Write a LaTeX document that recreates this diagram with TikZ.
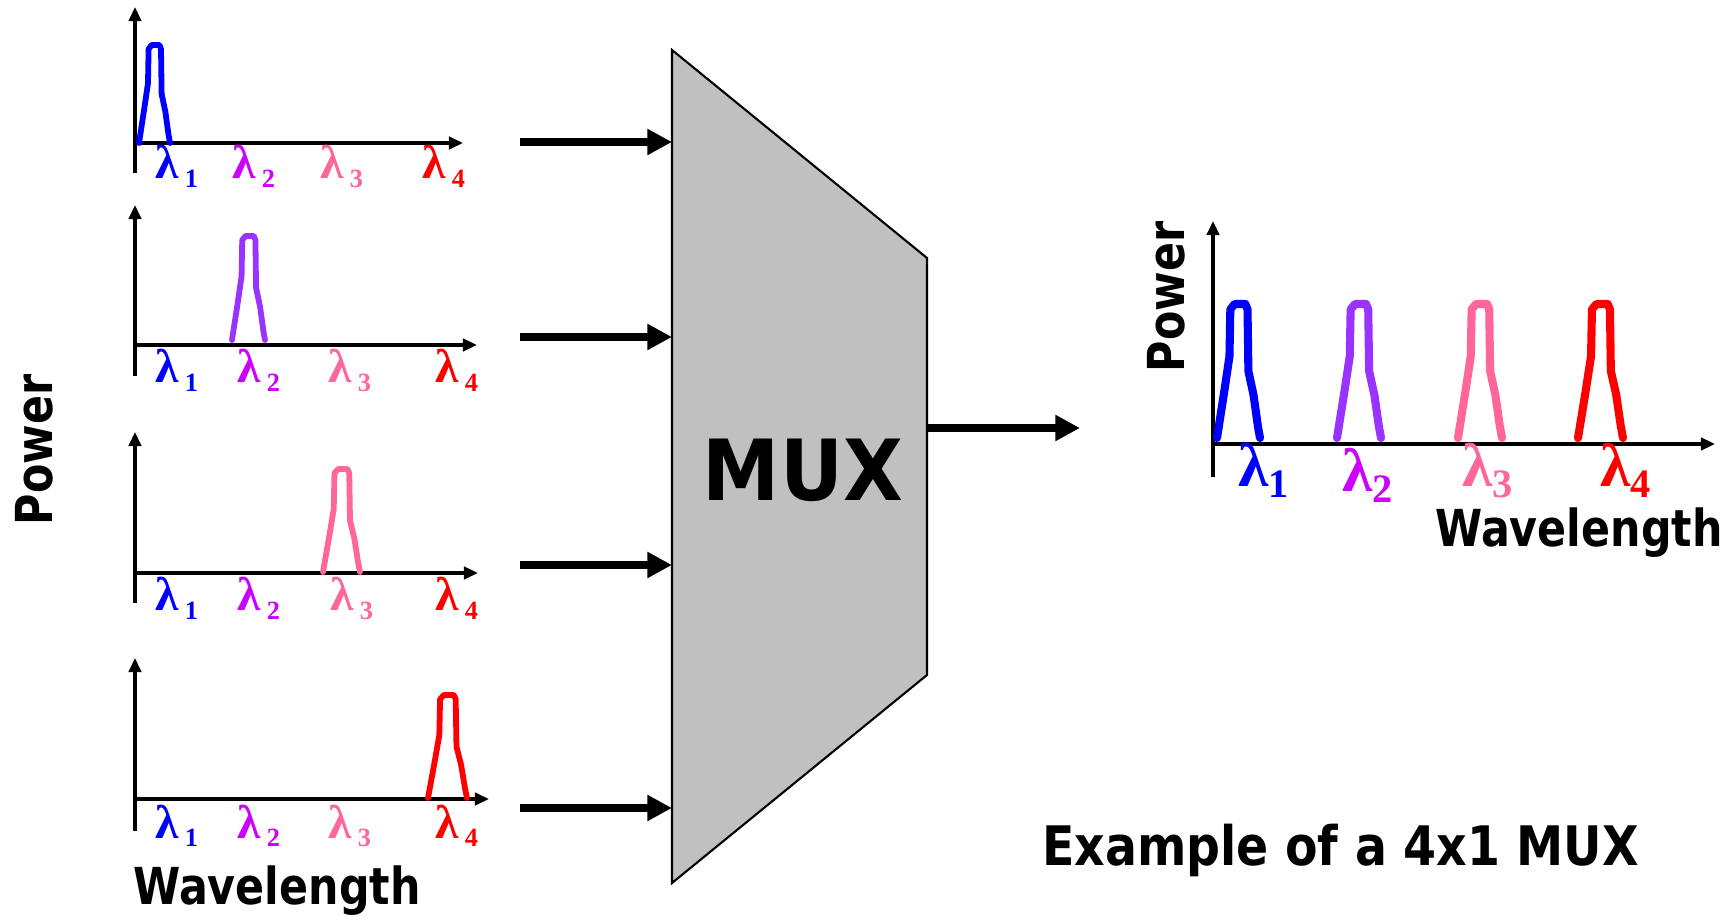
\documentclass[tikz,border=0pt]{standalone}
\usepackage{fontspec}
\usetikzlibrary{arrows.meta}
\newfontfamily\boldsans[FakeStretch=0.84]{DejaVu Sans}
\newfontfamily\widesans[FakeStretch=0.87]{DejaVu Sans}
\newfontfamily\muxsans[FakeStretch=0.92]{DejaVu Sans}
\newfontfamily\lamserif{Liberation Serif}
\definecolor{lamblue}{RGB}{0,0,255}
\definecolor{lammag}{RGB}{204,0,255}
\definecolor{peakpurple}{RGB}{153,51,255}
\definecolor{lampink}{RGB}{255,102,153}
\definecolor{lamred}{RGB}{255,0,0}
\definecolor{muxgray}{RGB}{192,192,192}
\newcommand\lamsmall[1]{{\fontsize{27}{27}\selectfont λ}\hspace{3.5pt}\raisebox{-5pt}{\fontsize{15}{15}\selectfont #1}}
\newcommand\lambig[1]{{\fontsize{35}{35}\selectfont λ}\raisebox{-6pt}{\fontsize{23}{23}\selectfont #1}}
% x0 y0 width height colour linewidth
\newcommand\peak[6]{\draw[#5,line width=#6,line join=round,line cap=round,shift={(#1,#2)},xscale=#3,yscale=#4]
  (0,0)--(0.17,-0.35)--(0.29,-0.61)--(0.31,-0.96)--(0.41,-1)--(0.66,-1)--(0.71,-0.96)--(0.73,-0.5)--(0.85,-0.32)--(0.95,-0.09)--(1,0);}

\begin{document}
\begin{tikzpicture}[x=0.02cm,y=-0.02cm,every node/.style={inner sep=0pt},
  axis/.style={line width=2.3pt,-{Triangle[length=8pt,width=7pt]}},
  feed/.style={line width=5pt,-{Triangle[length=14pt,width=14pt]}},
  lam/.style={font=\lamserif\bfseries,anchor=base west},
  axlabel/.style={font=\boldsans\bfseries\fontsize{29}{29}\selectfont}]
\useasboundingbox (0,0) rectangle (1735,918);
% input spectra
\coordinate (g1b) at (135,173);\coordinate (g1t) at (135,7);
\coordinate (g1o) at (135,143);\coordinate (g1x) at (463,143);
\coordinate (g2b) at (135,376);\coordinate (g2t) at (135,205);
\coordinate (g2o) at (135,345);\coordinate (g2x) at (477,345);
\coordinate (g3b) at (135,603);\coordinate (g3t) at (135,432);
\coordinate (g3o) at (135,573);\coordinate (g3x) at (478,573);
\coordinate (g4b) at (135,831);\coordinate (g4t) at (135,658);
\coordinate (g4o) at (135,799);\coordinate (g4x) at (489,799);
\draw[axis] (g1b)--(g1t);\draw[axis] (g1o)--(g1x);
\draw[axis] (g2b)--(g2t);\draw[axis] (g2o)--(g2x);
\draw[axis] (g3b)--(g3t);\draw[axis] (g3o)--(g3x);
\draw[axis] (g4b)--(g4t);\draw[axis] (g4o)--(g4x);
\peak{139}{143}{31}{98}{lamblue}{3.3pt}
\peak{232}{340}{33}{104}{peakpurple}{3.3pt}
\peak{323}{572}{37}{103}{lampink}{3.3pt}
\peak{428}{798}{39}{103}{lamred}{3.3pt}
\node[lam,text=lamblue] (g1l1) at (155,179) {\lamsmall{1}};
\node[lam,text=lammag] (g1l2) at (232,179) {\lamsmall{2}};
\node[lam,text=lampink] (g1l3) at (320,179) {\lamsmall{3}};
\node[lam,text=lamred] (g1l4) at (422,179) {\lamsmall{4}};
\node[lam,text=lamblue] (g2l1) at (155,383) {\lamsmall{1}};
\node[lam,text=lammag] (g2l2) at (237,383) {\lamsmall{2}};
\node[lam,text=lampink] (g2l3) at (328,383) {\lamsmall{3}};
\node[lam,text=lamred] (g2l4) at (435,383) {\lamsmall{4}};
\node[lam,text=lamblue] (g3l1) at (155,611) {\lamsmall{1}};
\node[lam,text=lammag] (g3l2) at (237,611) {\lamsmall{2}};
\node[lam,text=lampink] (g3l3) at (330,611) {\lamsmall{3}};
\node[lam,text=lamred] (g3l4) at (435,611) {\lamsmall{4}};
\node[lam,text=lamblue] (g4l1) at (155,838) {\lamsmall{1}};
\node[lam,text=lammag] (g4l2) at (237,838) {\lamsmall{2}};
\node[lam,text=lampink] (g4l3) at (328,838) {\lamsmall{3}};
\node[lam,text=lamred] (g4l4) at (435,838) {\lamsmall{4}};
\node[axlabel,rotate=90,anchor=base] (powl) at (52,450) {Power};
\node[axlabel,anchor=base west] (wavl) at (133,904) {Wavelength};
% multiplexer
\coordinate (m1) at (672,50);\coordinate (m2) at (927,258);
\coordinate (m3) at (927,675);\coordinate (m4) at (672,883);
\draw[fill=muxgray,line width=1.2pt] (m1)--(m2)--(m3)--(m4)--cycle;
\node[font=\muxsans\bfseries\fontsize{48}{48}\selectfont,anchor=base] (muxl) at (803,501) {MUX};
\coordinate (in1) at (520,142);\coordinate (mi1) at (672,142);
\coordinate (in2) at (520,337);\coordinate (mi2) at (672,337);
\coordinate (in3) at (520,565);\coordinate (mi3) at (672,565);
\coordinate (in4) at (520,808);\coordinate (mi4) at (672,808);
\draw[feed] (in1)--(mi1);
\draw[feed] (in2)--(mi2);
\draw[feed] (in3)--(mi3);
\draw[feed] (in4)--(mi4);
\coordinate (mo) at (927,428);\coordinate (out) at (1080,428);
\draw[feed] (mo)--(out);
% output spectrum
\coordinate (rb) at (1213,477);\coordinate (rt) at (1213,221);
\coordinate (ro) at (1213,444);\coordinate (rx) at (1715,444);
\draw[axis] (rb)--(rt);\draw[axis] (ro)--(rx);
\peak{1217}{438}{43}{134}{lamblue}{4.6pt}
\peak{1337}{438}{44}{134}{peakpurple}{4.6pt}
\peak{1458}{438}{44}{134}{lampink}{4.6pt}
\peak{1578}{438}{45}{134}{lamred}{4.6pt}
\node[lam,text=lamblue] (rl1) at (1238,487) {\lambig{1}};
\node[lam,text=lammag] (rl2) at (1342,492) {\lambig{2}};
\node[lam,text=lampink] (rl3) at (1462,487) {\lambig{3}};
\node[lam,text=lamred] (rl4) at (1600,487) {\lambig{4}};
\node[axlabel,rotate=90,anchor=base] (powr) at (1184,297) {Power};
\node[axlabel,anchor=base west] (wavr) at (1435,547) {Wavelength};
\node[font=\widesans\bfseries\fontsize{31}{31}\selectfont,anchor=base west] (exmp) at (1042,865) {Example of a 4x1 MUX};
\end{tikzpicture}
\end{document}
